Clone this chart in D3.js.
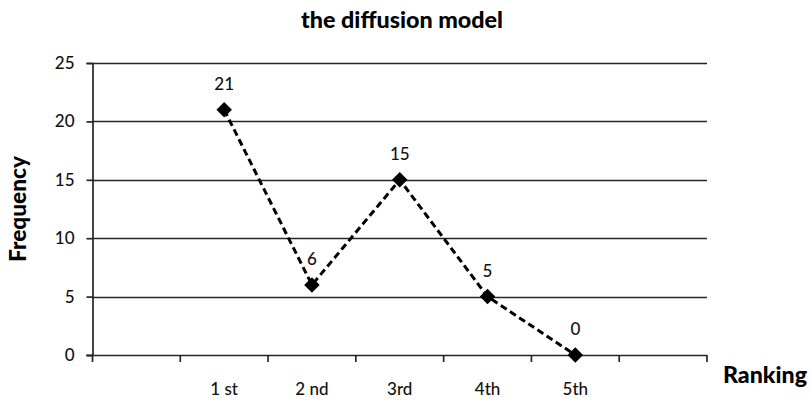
<!DOCTYPE html>
<html>
<head>
<meta charset="utf-8">
<script src="https://cdn.jsdelivr.net/npm/d3@7"></script>
<style>
  html, body { margin: 0; padding: 0; background: #fff; }
  svg { display: block; }
</style>
</head>
<body>
<svg id="chart" width="810" height="401"></svg>
<script>
// ---- data ----
const categories = ["", "1 st", "2 nd", "3rd", "4th", "5th", ""];
const pointCategories = ["1 st", "2 nd", "3rd", "4th", "5th"];
const frequency = [21, 6, 15, 5, 0];
const yTicks = [0, 5, 10, 15, 20, 25];
const titleText = "the diffusion model";
const yTitle = "Frequency";
const xTitle = "Ranking";

(function () {
// ---- layout ----
const mLeft = 92.5, mRight = 707, mTop = 63, mBottom = 355;
const font = "Lato, 'Open Sans', sans-serif";
const labelSize = 17;
const textColor = "#111";

const svg = d3.select("#chart");

const x = d3.scaleBand().domain(d3.range(categories.length)).range([mLeft, mRight]).paddingInner(0).paddingOuter(0);
const y = d3.scaleLinear().domain([0, 25]).range([mBottom, mTop]);

function fit(sel, target) {
  const n = sel.node();
  const fs = parseFloat(sel.attr("font-size"));
  const w = n.getComputedTextLength();
  if (w > 0) sel.attr("font-size", (fs * target / w).toFixed(2));
  return sel;
}

// gridlines
svg.append("g")
  .selectAll("line")
  .data(yTicks.filter(d => d > 0))
  .join("line")
  .attr("x1", mLeft).attr("x2", mRight)
  .attr("y1", d => Math.round(y(d)) + 0.5).attr("y2", d => Math.round(y(d)) + 0.5)
  .attr("stroke", "#262626").attr("stroke-width", 1.7);

// y axis
const yAxis = svg.append("g")
  .attr("transform", `translate(${mLeft},0)`)
  .call(d3.axisLeft(y).tickValues(yTicks).tickSize(6).tickPadding(12).tickFormat(d3.format("d")));
yAxis.select(".domain").attr("stroke", "#262626").attr("stroke-width", 1.7);
yAxis.selectAll(".tick line").attr("stroke", "#262626").attr("stroke-width", 1.7);
yAxis.selectAll(".tick text")
  .attr("font-family", font).attr("font-size", labelSize).attr("font-weight", 500).attr("fill", textColor);

// x axis
const boundaries = d3.range(categories.length + 1).map(i => mLeft + i * x.bandwidth());
const xg = svg.append("g");
xg.append("line")
  .attr("x1", mLeft - 6).attr("x2", mRight)
  .attr("y1", mBottom + 0.5).attr("y2", mBottom + 0.5)
  .attr("stroke", "#262626").attr("stroke-width", 1.7);
xg.selectAll("line.tk")
  .data(boundaries)
  .join("line")
  .attr("class", "tk")
  .attr("x1", d => d).attr("x2", d => d)
  .attr("y1", mBottom).attr("y2", mBottom + 7)
  .attr("stroke", "#262626").attr("stroke-width", 1.7);
xg.selectAll("text")
  .data(categories.map((c, i) => ({c, i})).filter(d => d.c !== ""))
  .join("text")
  .attr("x", d => x(d.i) + x.bandwidth() / 2)
  .attr("y", 395)
  .attr("text-anchor", "middle")
  .attr("font-family", font).attr("font-size", labelSize).attr("font-weight", 500).attr("fill", textColor)
  .text(d => d.c);

// line
const pts = pointCategories.map((c, i) => ({
  x: x(categories.indexOf(c)) + x.bandwidth() / 2,
  y: y(frequency[i]),
  v: frequency[i]
}));
svg.append("path")
  .datum(pts)
  .attr("d", d3.line().x(d => d.x).y(d => d.y))
  .attr("fill", "none")
  .attr("stroke", "#000")
  .attr("stroke-width", 3)
  .attr("stroke-dasharray", "7,4");

// markers
svg.append("g")
  .selectAll("path")
  .data(pts)
  .join("path")
  .attr("d", d3.symbol().type(d3.symbolSquare).size(120))
  .attr("transform", d => `translate(${d.x},${d.y}) rotate(45)`)
  .attr("fill", "#000");

// data labels
svg.append("g")
  .selectAll("text")
  .data(pts)
  .join("text")
  .attr("x", d => d.x)
  .attr("y", d => d.y - 26)
  .attr("dy", "0.35em")
  .attr("text-anchor", "middle")
  .attr("font-family", font).attr("font-size", labelSize).attr("font-weight", 500).attr("fill", textColor)
  .text(d => d.v);

// title
const t = svg.append("text")
  .attr("x", 402).attr("y", 28)
  .attr("text-anchor", "middle")
  .attr("font-family", font).attr("font-weight", "900").attr("font-size", 18)
  .attr("fill", "#000")
  .text(titleText);
fit(t, 202);

// y title
const yt = svg.append("text")
  .attr("transform", "translate(26,209) rotate(-90)")
  .attr("text-anchor", "middle")
  .attr("font-family", font).attr("font-weight", "900").attr("font-size", 18)
  .attr("fill", "#000")
  .text(yTitle);
fit(yt, 106);

// x title
const xt = svg.append("text")
  .attr("x", 765).attr("y", 383)
  .attr("text-anchor", "middle")
  .attr("font-family", font).attr("font-weight", "900").attr("font-size", 18)
  .attr("fill", "#000")
  .text(xTitle);
fit(xt, 84);
})();
</script>
</body>
</html>
